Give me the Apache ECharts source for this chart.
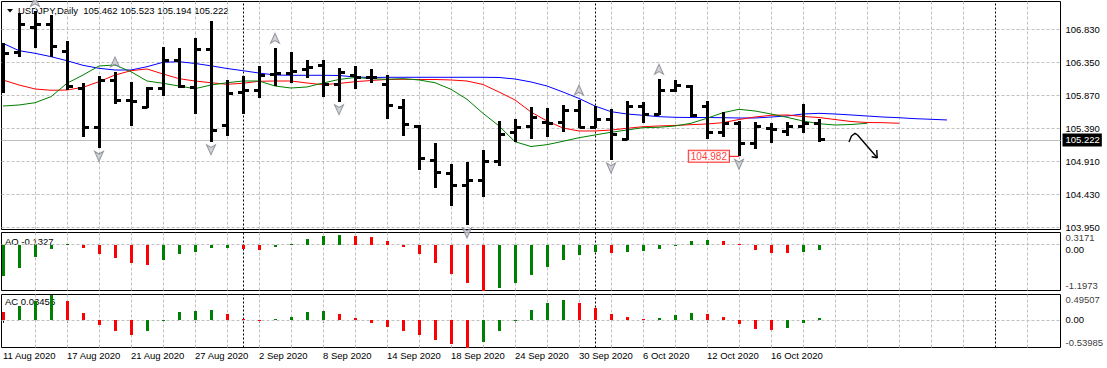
<!DOCTYPE html>
<html><head><meta charset="utf-8">
<script src="https://cdn.jsdelivr.net/npm/echarts@6/dist/echarts.min.js"></script>
<style>html,body{margin:0;padding:0;background:#fff}#c{width:1107px;height:368px}</style>
</head><body><div id="c"></div>
<script>
// ---------- data ----------
const symbolName = 'USDJPY,Daily';
const dates = ['11 Aug 2020','12 Aug 2020','13 Aug 2020','14 Aug 2020','17 Aug 2020','18 Aug 2020','19 Aug 2020','20 Aug 2020','21 Aug 2020','24 Aug 2020',
'25 Aug 2020','26 Aug 2020','27 Aug 2020','28 Aug 2020','31 Aug 2020','1 Sep 2020','2 Sep 2020','3 Sep 2020','4 Sep 2020','7 Sep 2020',
'8 Sep 2020','9 Sep 2020','10 Sep 2020','11 Sep 2020','14 Sep 2020','15 Sep 2020','16 Sep 2020','17 Sep 2020','18 Sep 2020','21 Sep 2020',
'22 Sep 2020','23 Sep 2020','24 Sep 2020','25 Sep 2020','28 Sep 2020','29 Sep 2020','30 Sep 2020','1 Oct 2020','2 Oct 2020','5 Oct 2020',
'6 Oct 2020','7 Oct 2020','8 Oct 2020','9 Oct 2020','12 Oct 2020','13 Oct 2020','14 Oct 2020','15 Oct 2020','16 Oct 2020','19 Oct 2020',
'20 Oct 2020','21 Oct 2020'];
const open  = [106.383,106.495,106.859,106.907,106.504,105.972,105.399,106.088,105.795,105.690,
105.966,106.373,105.986,106.529,105.428,105.914,105.943,106.175,106.184,106.242,
106.301,106.020,106.151,106.126,106.034,105.690,105.413,104.919,104.730,104.555,
104.628,104.914,105.336,105.413,105.478,105.472,105.656,105.405,105.521,105.234,
105.714,105.598,105.947,106.005,105.704,105.332,105.463,105.162,105.390,105.341,
105.413,105.462];
const high  = [106.631,107.060,107.089,107.038,106.660,106.045,106.151,106.209,106.068,105.986,
106.577,106.554,106.699,106.951,106.093,106.151,106.296,106.554,106.504,106.383,
106.383,106.263,106.296,106.248,106.165,105.816,105.438,105.172,104.871,104.896,
105.074,105.496,105.525,105.696,105.681,105.729,105.802,105.714,105.666,105.787,
105.777,106.103,106.093,106.020,105.787,105.623,105.501,105.486,105.463,105.486,
105.739,105.523];
const low   = [105.908,106.431,106.554,106.431,105.947,105.268,105.099,105.739,105.428,105.681,
105.864,105.972,105.594,105.195,105.278,105.594,105.835,106.005,106.053,106.126,
105.850,105.777,105.966,106.045,105.530,105.282,104.784,104.517,104.264,103.984,
104.395,104.846,105.195,105.230,105.259,105.332,105.390,105.390,104.929,105.220,
105.463,105.584,105.914,105.559,105.230,105.268,104.982,105.085,105.181,105.278,
105.326,105.194];
const close = [106.481,106.907,106.907,106.577,106.005,105.399,106.088,105.792,105.780,105.966,
106.373,105.995,106.543,105.351,105.889,105.947,106.165,106.185,106.213,106.271,
106.020,106.205,106.126,106.136,105.719,105.442,104.948,104.744,104.555,104.628,
104.904,105.307,105.399,105.544,105.466,105.656,105.399,105.521,105.307,105.714,
105.598,105.943,106.010,105.573,105.326,105.453,105.162,105.413,105.375,105.413,
105.463,105.222];
// Alligator lines (blue jaw, red teeth, green lips), read per bar
const jaw = [106.626,106.519,106.481,106.432,106.373,106.306,106.263,106.238,106.238,106.286,
106.350,106.359,106.333,106.299,106.260,106.228,106.194,106.165,106.161,106.161,
106.161,106.158,106.136,106.129,106.132,106.132,106.132,106.132,106.132,106.132,
106.132,106.129,106.107,106.064,106.005,105.918,105.824,105.714,105.632,105.598,
105.579,105.559,105.550,105.547,105.547,105.544,105.540,105.540,105.554,105.569,
105.598,105.608,105.598,105.584,105.569,105.554,105.544,105.530,105.521,105.511];
const teeth = [106.093,106.020,105.962,105.943,105.947,105.986,106.068,106.165,106.228,106.253,
106.180,106.112,106.078,106.053,106.030,106.045,106.074,106.078,106.078,106.049,
106.024,106.042,106.068,106.085,106.100,106.103,106.100,106.100,106.093,106.078,
106.027,105.918,105.802,105.627,105.496,105.394,105.351,105.351,105.365,105.390,
105.413,105.424,105.431,105.443,105.453,105.472,105.518,105.554,105.579,105.584,
105.562,105.547,105.518,105.489,105.474,105.472,105.463];
const lips = [105.714,105.729,105.762,105.850,106.045,106.165,106.296,106.311,106.213,106.078,
106.045,106.005,105.966,106.020,106.053,106.078,106.078,106.005,105.976,105.991,
106.049,106.100,106.129,106.112,106.103,106.112,106.093,106.053,105.957,105.812,
105.608,105.424,105.195,105.125,105.152,105.201,105.253,105.293,105.332,105.365,
105.399,105.405,105.424,105.463,105.536,105.617,105.666,105.642,105.598,105.550,
105.496,105.457,105.438,105.445,105.463];
const fractalUp = [2,7,17,36,41];
const fractalDown = [6,13,21,29,38,46];
const ao = [-0.826,-0.600,-0.310,-0.110,0.010,-0.090,-0.240,-0.350,-0.480,-0.520,
-0.400,-0.240,-0.200,-0.090,-0.080,-0.110,-0.130,-0.050,0.005,0.140,
0.220,0.240,0.220,0.190,0.090,-0.050,-0.240,-0.470,-0.760,-0.990,
-1.1973,-1.120,-0.990,-0.780,-0.580,-0.400,-0.280,-0.200,-0.210,-0.190,
-0.165,-0.120,-0.040,0.086,0.110,0.086,0.010,-0.146,-0.224,-0.230,
-0.200,-0.1327];
const ac = [0.160,0.280,0.375,0.495,0.360,0.136,-0.110,-0.210,-0.290,-0.210,
-0.010,0.160,0.180,0.190,0.120,0.010,-0.003,0.020,0.060,0.155,
0.180,0.120,0.040,-0.060,-0.130,-0.210,-0.290,-0.400,-0.480,-0.5399,
-0.430,-0.220,0.005,0.190,0.330,0.380,0.330,0.233,0.116,0.058,
0.020,0.040,0.097,0.136,0.116,0.058,-0.078,-0.175,-0.190,-0.150,
-0.058,0.03456];
const aoFirstUp = true, acFirstUp = false;
const priceTicks = [106.830,106.350,105.870,105.390,104.910,104.430,103.950];
const aoRange = [-1.1973, 0.3171];
const acRange = [-0.53985, 0.49507];
const lastPrice = 105.222;
const lowMark = {bar: 46, price: 104.982};
const separators = [15, 37, 62];
const trendArrow = [[52.875,105.191],[53.03,105.278],[53.25,105.317],[53.41,105.293],[54.64,104.962]];
const arrowHead = [[54.29,104.977],[54.64,104.962],[54.61,105.075]];

// ---------- chart ----------
const FONT = "'Liberation Sans', Arial, Helvetica, sans-serif";
const FS = 9.5;
const X_MIN = -0.09375, X_MAX = 66.09375;
const P_MIN = 103.918, P_MAX = 107.2344;
const last = close.length - 1;

const gridStyle = {color:'#c0c0c0', type:[3,2], width:1};
const sepStyle = {color:'#000', type:[2,2], width:1};
const vGrid = [];
for (let i = 2; i <= 64; i += 2) if (!separators.includes(i)) vGrid.push(i);
const vLines = () => [
  ...vGrid.map(v => ({xAxis:v, lineStyle:gridStyle, label:{show:false}})),
  ...separators.map(v => ({xAxis:v, lineStyle:sepStyle, label:{show:false}}))
];
const axisLbl = (text, extra) => Object.assign({show:true, position:'end', distance:5, formatter:text,
  color:'#000', fontSize:FS, fontFamily:FONT}, extra || {});

function colorsFor(arr, firstUp) {
  return arr.map((v, i) => (i === 0 ? firstUp : v > arr[i-1]) ? '#008000' : '#ff0000');
}
const aoColors = colorsFor(ao, aoFirstUp), acColors = colorsFor(ac, acFirstUp);

function renderOHLC(params, api) {
  const i = api.value(0);
  const pO = api.coord([i, api.value(1)]), pH = api.coord([i, api.value(2)]);
  const pL = api.coord([i, api.value(3)]), pC = api.coord([i, api.value(4)]);
  const cx = Math.floor(pH[0]) + 0.5;
  const sy = y => Math.floor(y) + 0.5;
  const st = {stroke:'#000', lineWidth:3};
  return {type:'group', children:[
    {type:'line', shape:{x1:cx, y1:Math.round(pH[1]), x2:cx, y2:Math.round(pL[1])}, style:st},
    {type:'line', shape:{x1:cx-5.5, y1:sy(pO[1]), x2:cx, y2:sy(pO[1])}, style:st},
    {type:'line', shape:{x1:cx, y1:sy(pC[1]), x2:cx+5.5, y2:sy(pC[1])}, style:st}
  ]};
}
function histo(colors) {
  return function (params, api) {
    const i = api.value(0), v = api.value(1);
    const p0 = api.coord([i, 0]), p1 = api.coord([i, v]);
    const x = Math.floor(p0[0]) - 1;
    const y0 = Math.round(p0[1]), y1 = Math.round(p1[1]);
    return {type:'rect', shape:{x:x, y:Math.min(y0,y1), width:3, height:Math.max(1, Math.abs(y1-y0))},
      style:{fill:colors[params.dataIndex]}};
  };
}
// range labels (max at top edge, min at bottom edge) of an indicator pane, placed on the right edge
function rangeLabels(axisIdx, range, digits) {
  return {type:'scatter', xAxisIndex:axisIdx, yAxisIndex:axisIdx, clip:false, silent:true, z:6,
    symbolSize:0.1, itemStyle:{color:'rgba(0,0,0,0)'},
    data:[
      {value:[X_MAX, range[1]], label:{verticalAlign:'top', padding:[0,0,0,0], formatter:range[1].toFixed(digits)}},
      {value:[X_MAX, range[0]], label:{verticalAlign:'bottom', padding:[0,0,0,0], formatter:range[0].toFixed(digits)}}
    ],
    label:{show:true, position:'right', distance:5, color:'#000', fontSize:FS, fontFamily:FONT, lineHeight:10}};
}
const labelIdx = dates.map((d, i) => i).filter(i => i % 4 === 0);
const fracUpPath = 'path://M5,0L10,11L5,8L0,11Z';
const fracDnPath = 'path://M0,0L5,3L10,0L5,11Z';

const chart = echarts.init(document.getElementById('c'), null, {renderer:'svg', width:1107, height:368});
const baseGrid = {show:true, borderColor:'#000', borderWidth:1, backgroundColor:'transparent', containLabel:false};
chart.setOption({
  animation:false,
  backgroundColor:'#fff',
  grid:[
    Object.assign({left:1.5, top:1.5, width:1059, height:228}, baseGrid),
    Object.assign({left:1.5, top:232.5, width:1059, height:58}, baseGrid),
    Object.assign({left:1.5, top:294.5, width:1059, height:53}, baseGrid)
  ],
  xAxis:[
    {type:'value', gridIndex:0, min:X_MIN, max:X_MAX, show:false},
    {type:'value', gridIndex:1, min:X_MIN, max:X_MAX, show:false},
    {type:'value', gridIndex:2, min:X_MIN, max:X_MAX, show:true,
      axisLine:{show:false}, splitLine:{show:false},
      axisTick:{show:true, customValues:labelIdx, length:3, lineStyle:{color:'#000'}},
      axisLabel:{show:true, customValues:labelIdx, formatter:v => dates[Math.round(v)] || '', align:'left',
        margin:3, fontSize:FS, fontFamily:FONT, color:'#000', hideOverlap:false}}
  ],
  yAxis:[
    {type:'value', gridIndex:0, min:P_MIN, max:P_MAX, show:false},
    {type:'value', gridIndex:1, min:aoRange[0], max:aoRange[1], show:false},
    {type:'value', gridIndex:2, min:acRange[0], max:acRange[1], show:false}
  ],
  graphic:[
    {type:'polygon', shape:{points:[[7,9],[13,9],[10,12.5]]}, style:{fill:'#000'}},
    {type:'text', left:18, top:5, style:{text:`${symbolName}  ${open[last].toFixed(3)} ${high[last].toFixed(3)} ${low[last].toFixed(3)} ${close[last].toFixed(3)}`,
      fontSize:FS, fontFamily:FONT, fill:'#000'}},
    {type:'text', left:5, top:236, style:{text:`AO ${ao[ao.length-1].toFixed(4)}`, fontSize:FS, fontFamily:FONT, fill:'#000'}},
    {type:'text', left:5, top:296, style:{text:`AC ${ac[ac.length-1].toFixed(5)}`, fontSize:FS, fontFamily:FONT, fill:'#000'}}
  ],
  series:[
    {type:'line', name:'grid', xAxisIndex:0, yAxisIndex:0, data:close.map((v,i)=>[i,v]), symbol:'none',
      lineStyle:{opacity:0}, silent:true, z:1,
      markLine:{silent:true, symbol:['none','none'], z:1, animation:false, data:[
        ...priceTicks.map(v => ({yAxis:v, lineStyle:gridStyle, label:axisLbl(v.toFixed(3))})),
        {yAxis:lastPrice, lineStyle:{color:'#c0c0c0', type:'solid', width:1},
          label:axisLbl(lastPrice.toFixed(3), {backgroundColor:'#000', color:'#fff', padding:[2,2,1,3], distance:2})},
        ...vLines()
      ]}},
    {type:'line', name:'jaw', xAxisIndex:0, yAxisIndex:0, data:jaw.map((v,i)=>[i,v]), symbol:'none',
      lineStyle:{color:'#0000ff', width:1}, z:3, silent:true},
    {type:'line', name:'teeth', xAxisIndex:0, yAxisIndex:0, data:teeth.map((v,i)=>[i,v]), symbol:'none',
      lineStyle:{color:'#ff0000', width:1}, z:3, silent:true},
    {type:'line', name:'lips', xAxisIndex:0, yAxisIndex:0, data:lips.map((v,i)=>[i,v]), symbol:'none',
      lineStyle:{color:'#008000', width:1}, z:3, silent:true},
    {type:'custom', name:'bars', xAxisIndex:0, yAxisIndex:0, renderItem:renderOHLC, clip:true, z:4, silent:true,
      data:close.map((c,i)=>[i, open[i], high[i], low[i], c])},
    {type:'scatter', name:'fractalUp', xAxisIndex:0, yAxisIndex:0, data:fractalUp.map(i=>[i, high[i]]),
      symbol:fracUpPath, symbolSize:[9,10], symbolOffset:[0,-10], z:5, silent:true,
      itemStyle:{color:'#c4c8d0', borderColor:'#808088', borderWidth:1}},
    {type:'scatter', name:'fractalDown', xAxisIndex:0, yAxisIndex:0, data:fractalDown.map(i=>[i, low[i]]),
      symbol:fracDnPath, symbolSize:[9,10], symbolOffset:[0,8], z:5, silent:true, clip:true,
      itemStyle:{color:'#c4c8d0', borderColor:'#808088', borderWidth:1}},
    {type:'line', name:'lowLine', xAxisIndex:0, yAxisIndex:0, data:[[lowMark.bar-0.625, lowMark.price],[lowMark.bar, lowMark.price]],
      symbol:'none', lineStyle:{color:'#ff0000', width:1}, z:6, silent:true},
    {type:'scatter', name:'lowLabel', xAxisIndex:0, yAxisIndex:0, data:[[lowMark.bar-0.625, lowMark.price]],
      symbolSize:0.1, itemStyle:{color:'transparent'}, z:6, silent:true,
      label:{show:true, position:'left', distance:0, formatter:lowMark.price.toFixed(3), color:'#ff0000',
        backgroundColor:'#fff', borderColor:'#ff0000', borderWidth:1, padding:[1,2,0,2], fontSize:10, fontFamily:FONT}},
    {type:'line', name:'arrow', xAxisIndex:0, yAxisIndex:0, data:trendArrow, symbol:'none',
      lineStyle:{color:'#000', width:1.4}, z:6, silent:true},
    {type:'line', name:'arrowHead', xAxisIndex:0, yAxisIndex:0, data:arrowHead, symbol:'none',
      lineStyle:{color:'#000', width:1.4}, z:6, silent:true},
    {type:'custom', name:'AO', xAxisIndex:1, yAxisIndex:1, renderItem:histo(aoColors), z:4, silent:true,
      data:ao.map((v,i)=>[i,v]),
      markLine:{silent:true, symbol:['none','none'], z:1, animation:false, data:[
        {yAxis:0, lineStyle:gridStyle, label:axisLbl('0.00', {verticalAlign:'top', lineHeight:10})},
        ...vLines()
      ]}},
    rangeLabels(1, aoRange, 4),
    {type:'custom', name:'AC', xAxisIndex:2, yAxisIndex:2, renderItem:histo(acColors), z:4, silent:true,
      data:ac.map((v,i)=>[i,v]),
      markLine:{silent:true, symbol:['none','none'], z:1, animation:false, data:[
        {yAxis:0, lineStyle:gridStyle, label:axisLbl('0.00')},
        ...vLines()
      ]}},
    rangeLabels(2, acRange, 5)
  ]
});
</script></body></html>
